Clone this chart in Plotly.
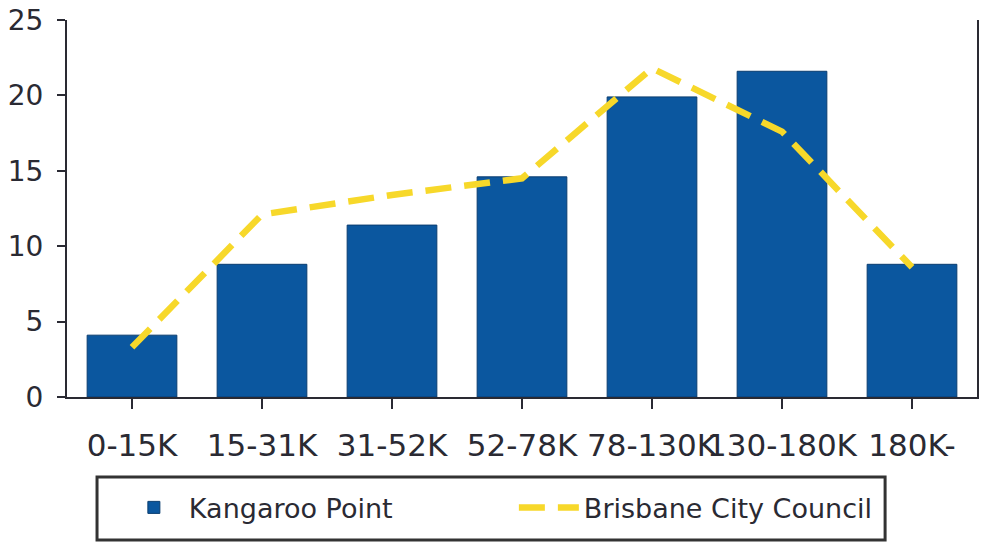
import plotly.graph_objects as go

# household income bands (annual)
categories = ["0-15K", "15-31K", "31-52K", "52-78K", "78-130K", "130-180K", "180K-"]
kangaroo_point = [4.1, 8.8, 11.4, 14.6, 19.9, 21.6, 8.8]
brisbane_council = [3.3, 12.1, 13.4, 14.5, 21.8, 17.6, 8.6]

BAR_BLUE = "#0b579f"
LINE_YELLOW = "#f7d82a"
INK = "#2a2a33"
FONT = "DejaVu Sans, sans-serif"

fig = go.Figure()
fig.add_trace(go.Bar(
    x=categories, y=kangaroo_point, name="Kangaroo Point",
    marker=dict(color=BAR_BLUE, line=dict(color="#0a3d70", width=1)),
))
fig.add_trace(go.Scatter(
    x=categories, y=brisbane_council, name="Brisbane City Council",
    mode="lines", line=dict(color=LINE_YELLOW, width=6.5, dash="26px,13px"),
))

fig.update_layout(
    width=982, height=545,
    paper_bgcolor="white", plot_bgcolor="white",
    margin=dict(l=67, r=5, t=20, b=148, autoexpand=False),
    font=dict(family=FONT, color=INK, size=24),
    bargap=0.31,
    showlegend=True,
    legend=dict(
        orientation="h", x=0.057, xanchor="left", y=-0.294, yanchor="middle",
        borderwidth=0, bgcolor="rgba(0,0,0,0)",
        font=dict(size=27, color=INK), entrywidth=320, itemwidth=60,
    ),
    # legend frame
    shapes=[dict(
        type="rect", xref="paper", yref="paper",
        x0=0.033, x1=0.899, y0=-0.379, y1=-0.212,
        line=dict(color="#333333", width=3), fillcolor="white", layer="below",
    )],
)
fig.update_xaxes(
    showline=True, linecolor=INK, linewidth=2, tickangle=0,
    ticks="outside", ticklen=10, tickwidth=2, tickcolor=INK,
    tickfont=dict(size=31), ticklabelstandoff=10, showgrid=False,
)
fig.update_yaxes(
    range=[0, 25], tickvals=[0, 5, 10, 15, 20, 25],
    showline=True, mirror=True, linecolor=INK, linewidth=2,
    ticks="outside", ticklen=8, tickwidth=2, tickcolor=INK, ticklabeloverflow="allow",
    tickfont=dict(size=28), ticklabelstandoff=8, showgrid=False, zeroline=False,
)

fig.write_html(
    "out.html",
    config={"displayModeBar": False},
    post_script="document.body.style.margin='0';",
)
